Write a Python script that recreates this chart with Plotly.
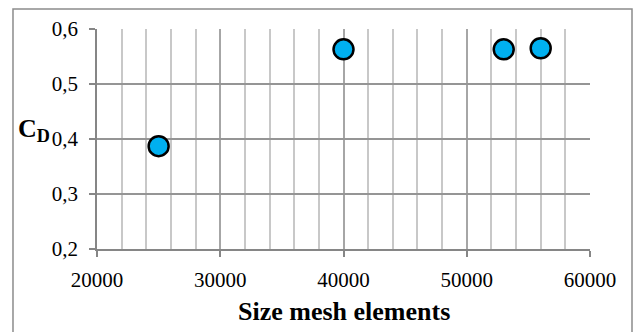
import plotly.graph_objects as go

mesh_elements = [25000, 40000, 53000, 56000]
cd_values = [0.387, 0.563, 0.563, 0.565]

x_range = [20000, 60000]
x_dtick = 10000
y_range = [0.2, 0.6]
y_dtick = 0.1

font_family = "Times New Roman, Liberation Serif, serif"
tick_font = dict(family=font_family, size=21, color="black")

fig = go.Figure()
fig.add_trace(go.Scatter(
    x=mesh_elements, y=cd_values, mode="markers",
    marker=dict(size=20, color="#00B0F0", line=dict(color="black", width=2.5)),
    showlegend=False, cliponaxis=False,
))

fig.update_layout(
    template="none",
    separators=", ",
    width=636, height=332,
    margin=dict(l=97, r=46, t=29, b=83),
    paper_bgcolor="white", plot_bgcolor="white",
    font=dict(family=font_family, size=21, color="black"),
    xaxis=dict(
        range=x_range, tickmode="linear", tick0=20000, dtick=x_dtick, tickformat="d",
        tickfont=tick_font,
        showline=True, linecolor="#868686", linewidth=1.5,
        showgrid=True, gridcolor="#A6A6A6", gridwidth=1.5,
        ticks="outside", ticklen=6, tickcolor="#868686", tickwidth=1.5,
        ticklabelstandoff=5,
        minor=dict(dtick=2000, showgrid=True, gridcolor="#C8C8C8", gridwidth=1.5),
        zeroline=False,
    ),
    yaxis=dict(
        range=y_range, tickmode="linear", tick0=0.2, dtick=y_dtick, tickformat=".1f",
        tickfont=tick_font,
        showline=True, linecolor="#868686", linewidth=1.5,
        showgrid=True, gridcolor="#959595", gridwidth=1.5,
        ticks="outside", ticklen=6, tickcolor="#868686", tickwidth=1.5,
        ticklabelstandoff=7,
        zeroline=False,
    ),
    shapes=[dict(
        type="rect", xref="paper", yref="paper",
        x0=-0.1704, x1=1.0852, y0=-0.45, y1=1.0909,
        line=dict(color="#8C8C8C", width=1.5), fillcolor="rgba(0,0,0,0)", layer="below",
    )],
    annotations=[
        dict(
            text="<b>Size mesh elements</b>", xref="paper", yref="paper",
            x=0.5, y=-0.282, xanchor="center", yanchor="middle",
            showarrow=False, font=dict(size=26, family=font_family, color="black"),
        ),
        dict(
            text="<b>C<sub>D</sub></b>", xref="paper", yref="paper",
            x=-0.128, y=0.541, xanchor="center", yanchor="middle",
            showarrow=False, font=dict(size=26, family=font_family, color="black"),
        ),
    ],
)

fig.write_html("out.html")
